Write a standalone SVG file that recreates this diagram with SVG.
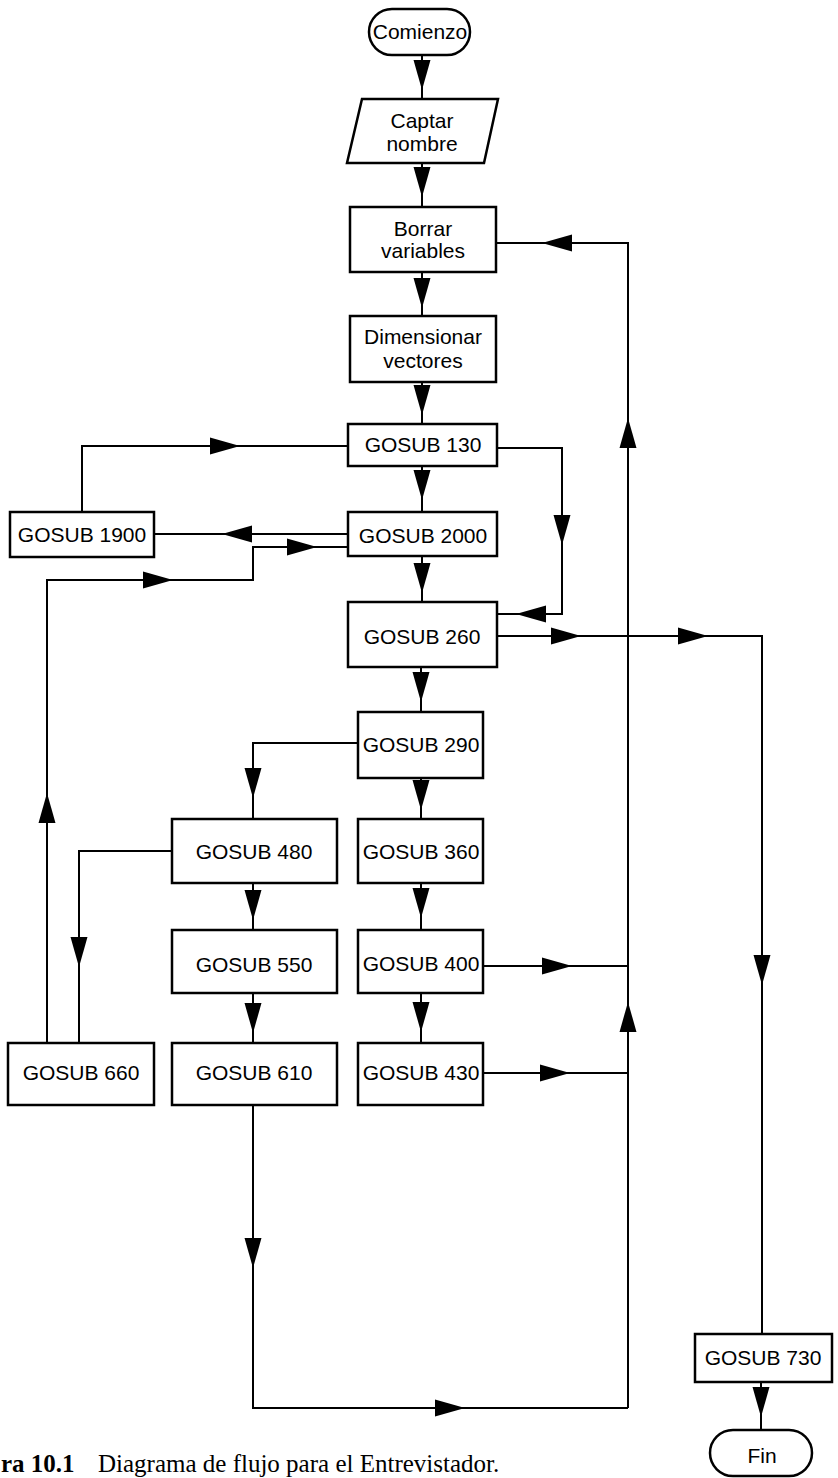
<svg xmlns="http://www.w3.org/2000/svg" xmlns:xlink="http://www.w3.org/1999/xlink" width="838" height="1478" viewBox="0 0 838 1478">
<style>
.box{fill:#fff;stroke:#000;stroke-width:2.5}
.t{font-family:"Liberation Sans",Arial,sans-serif;font-size:21px;fill:#000;text-anchor:middle}
.ln{fill:none;stroke:#000;stroke-width:2}
.cap{font-family:"Liberation Serif","Times New Roman",serif;font-size:25px;fill:#000}
</style>
<defs>
<path id="ah" d="M0,0 L-30,-8.5 L-30,8.5 Z" fill="#000"/>
</defs>
<rect width="838" height="1478" fill="#fff"/>
<g id="connectors">
<path class="ln" d="M422,55 V99"/>
<path class="ln" d="M422,163 V207"/>
<path class="ln" d="M422,272 V316"/>
<path class="ln" d="M422,382 V424"/>
<path class="ln" d="M422,466 V512"/>
<path class="ln" d="M422,556 V602"/>
<path class="ln" d="M421,667 V712"/>
<path class="ln" d="M421,778 V819"/>
<path class="ln" d="M421,883 V930"/>
<path class="ln" d="M421,993 V1043"/>
<path class="ln" d="M358,743 H253 V819"/>
<path class="ln" d="M253,883 V930"/>
<path class="ln" d="M253,993 V1043"/>
<path class="ln" d="M172,851 H79 V1043"/>
<path class="ln" d="M47,1043 V580 H253 V547 H348"/>
<path class="ln" d="M82,512 V446 H348"/>
<path class="ln" d="M348,534 H154"/>
<path class="ln" d="M497,448 H562 V614 H497"/>
<path class="ln" d="M497,636 H762 V1334"/>
<path class="ln" d="M483,966 H628"/>
<path class="ln" d="M483,1073 H628"/>
<path class="ln" d="M628,1408 V243 H496"/>
<path class="ln" d="M253,1105 V1408 H628"/>
<path class="ln" d="M761,1382 V1430"/>
<use xlink:href="#ah" transform="translate(422,90) rotate(90)"/>
<use xlink:href="#ah" transform="translate(422,197) rotate(90)"/>
<use xlink:href="#ah" transform="translate(422,308) rotate(90)"/>
<use xlink:href="#ah" transform="translate(422,415) rotate(90)"/>
<use xlink:href="#ah" transform="translate(422,500) rotate(90)"/>
<use xlink:href="#ah" transform="translate(422,593) rotate(90)"/>
<use xlink:href="#ah" transform="translate(421,702) rotate(90)"/>
<use xlink:href="#ah" transform="translate(421,810) rotate(90)"/>
<use xlink:href="#ah" transform="translate(421,918) rotate(90)"/>
<use xlink:href="#ah" transform="translate(421,1032) rotate(90)"/>
<use xlink:href="#ah" transform="translate(253,798) rotate(90)"/>
<use xlink:href="#ah" transform="translate(253,920) rotate(90)"/>
<use xlink:href="#ah" transform="translate(253,1033) rotate(90)"/>
<use xlink:href="#ah" transform="translate(79,967) rotate(90)"/>
<use xlink:href="#ah" transform="translate(47,793) rotate(-90)"/>
<use xlink:href="#ah" transform="translate(173,580)"/>
<use xlink:href="#ah" transform="translate(317,547)"/>
<use xlink:href="#ah" transform="translate(240,446)"/>
<use xlink:href="#ah" transform="translate(222,534) rotate(180)"/>
<use xlink:href="#ah" transform="translate(562,545) rotate(90)"/>
<use xlink:href="#ah" transform="translate(516,614) rotate(180)"/>
<use xlink:href="#ah" transform="translate(581,636)"/>
<use xlink:href="#ah" transform="translate(708,636)"/>
<use xlink:href="#ah" transform="translate(762,985) rotate(90)"/>
<use xlink:href="#ah" transform="translate(572,966)"/>
<use xlink:href="#ah" transform="translate(570,1073)"/>
<use xlink:href="#ah" transform="translate(628,418) rotate(-90)"/>
<use xlink:href="#ah" transform="translate(628,1002) rotate(-90)"/>
<use xlink:href="#ah" transform="translate(542,243) rotate(180)"/>
<use xlink:href="#ah" transform="translate(253,1268) rotate(90)"/>
<use xlink:href="#ah" transform="translate(465,1408)"/>
<use xlink:href="#ah" transform="translate(761,1417) rotate(90)"/>
</g>
<g id="comienzo"><rect class="box" x="369" y="9" width="101" height="46" rx="23"/><text class="t" x="420" y="39">Comienzo</text></g>
<g id="captar"><polygon class="box" points="362,99 498,99 484,163 347,163"/><text class="t" x="422" y="128">Captar</text><text class="t" x="422" y="151">nombre</text></g>
<g id="borrar"><rect class="box" x="350" y="207" width="146" height="65"/><text class="t" x="423" y="236">Borrar</text><text class="t" x="423" y="258">variables</text></g>
<g id="dimensionar"><rect class="box" x="350" y="316" width="146" height="66"/><text class="t" x="423" y="344">Dimensionar</text><text class="t" x="423" y="368">vectores</text></g>
<g id="gosub130"><rect class="box" x="348" y="424" width="149" height="42"/><text class="t" x="423" y="452">GOSUB 130</text></g>
<g id="gosub2000"><rect class="box" x="348" y="512" width="149" height="44"/><text class="t" x="423" y="543">GOSUB 2000</text></g>
<g id="gosub1900"><rect class="box" x="10" y="512" width="144" height="45"/><text class="t" x="82" y="542">GOSUB 1900</text></g>
<g id="gosub260"><rect class="box" x="348" y="602" width="149" height="65"/><text class="t" x="422" y="644">GOSUB 260</text></g>
<g id="gosub290"><rect class="box" x="358" y="712" width="125" height="66"/><text class="t" x="421" y="752">GOSUB 290</text></g>
<g id="gosub360"><rect class="box" x="358" y="819" width="125" height="64"/><text class="t" x="421" y="859">GOSUB 360</text></g>
<g id="gosub480"><rect class="box" x="172" y="819" width="165" height="64"/><text class="t" x="254" y="859">GOSUB 480</text></g>
<g id="gosub550"><rect class="box" x="172" y="930" width="165" height="63"/><text class="t" x="254" y="972">GOSUB 550</text></g>
<g id="gosub400"><rect class="box" x="358" y="930" width="125" height="63"/><text class="t" x="421" y="971">GOSUB 400</text></g>
<g id="gosub610"><rect class="box" x="172" y="1043" width="165" height="62"/><text class="t" x="254" y="1080">GOSUB 610</text></g>
<g id="gosub660"><rect class="box" x="8" y="1043" width="146" height="62"/><text class="t" x="81" y="1080">GOSUB 660</text></g>
<g id="gosub430"><rect class="box" x="358" y="1043" width="125" height="62"/><text class="t" x="421" y="1080">GOSUB 430</text></g>
<g id="gosub730"><rect class="box" x="695" y="1334" width="137" height="48"/><text class="t" x="763" y="1365">GOSUB 730</text></g>
<g id="fin"><rect class="box" x="710" y="1430" width="102" height="46" rx="23"/><text class="t" x="762" y="1463">Fin</text></g>
<g id="caption">
<text class="cap" x="1" y="1472" font-weight="bold">ra 10.1</text>
<text class="cap" x="98" y="1472">Diagrama de flujo para el Entrevistador.</text>
</g>
</svg>
